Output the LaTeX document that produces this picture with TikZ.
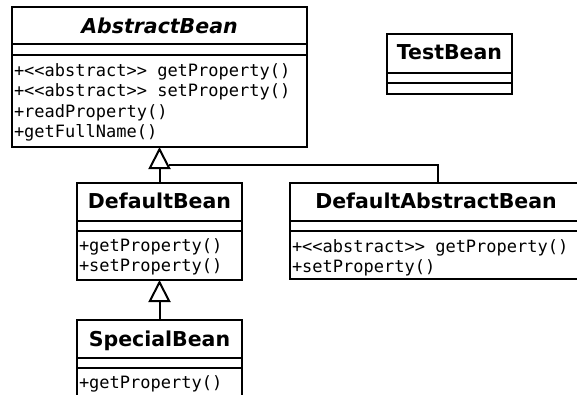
\documentclass[tikz,border=0pt]{standalone}
\usepackage{fontspec}
\setsansfont{DejaVu Sans}
\setmonofont{DejaVu Sans Mono}
\usetikzlibrary{arrows.meta}

\begin{document}
\begin{tikzpicture}[x=1pt, y=-1pt, line width=2pt,
  box/.style={draw, rectangle, inner sep=0pt, outer sep=0pt, anchor=north west, fill=white},
  title/.style={font=\fontsize{20.5}{20.5}\selectfont\sffamily\bfseries, inner sep=0pt, anchor=base},
  ops/.style={font=\fontsize{17}{20.4}\selectfont\ttfamily, inner sep=0pt, anchor=base west},
  inherit/.style={-{Triangle[open, length=22pt, width=22pt]}}]

\useasboundingbox (0,0) rectangle (577,394);
\clip (0,0) rectangle (577,394);

% class boxes
\node[box, minimum width=295pt, minimum height=140pt] (abs) at (12,7) {};
\node[box, minimum width=125pt, minimum height=60pt] (test) at (387,34) {};
\node[box, minimum width=165pt, minimum height=97pt] (dbean) at (77,183) {};
\node[box, minimum width=296pt, minimum height=96pt] (dab) at (290,183) {};
\node[box, minimum width=165pt, minimum height=90pt] (special) at (77,320) {};

% compartments
\draw (12,44) -- (307,44) (12,55) -- (307,55);
\draw (387,73) -- (512,73) (387,83) -- (512,83);
\draw (77,221) -- (242,221) (77,231) -- (242,231);
\draw (290,221) -- (586,221) (290,231) -- (586,231);
\draw (77,358) -- (242,358) (77,368) -- (242,368);

% class names
\node[title, font=\fontsize{20.5}{20.5}\selectfont\sffamily\bfseries\itshape] (absname) at (159.5,33) {AbstractBean};
\node[title] (testname) at (449.5,59.5) {TestBean};
\node[title] (dbeanname) at (159.5,208.5) {DefaultBean};
\node[title] (dabname) at (436,208.5) {DefaultAbstractBean};
\node[title] (specialname) at (159.5,346) {SpecialBean};

% operations
\node[ops] (absop1) at (13,76) {+<<abstract>> getProperty()};
\node[ops] (absop2) at (13,96.5) {+<<abstract>> setProperty()};
\node[ops] (absop3) at (13,117) {+readProperty()};
\node[ops] (absop4) at (13,137.5) {+getFullName()};
\node[ops] (dbeanop1) at (78,251) {+getProperty()};
\node[ops] (dbeanop2) at (78,271) {+setProperty()};
\node[ops] (dabop1) at (291,252) {+<<abstract>> getProperty()};
\node[ops] (dabop2) at (291,272) {+setProperty()};
\node[ops] (specialop1) at (78,388) {+getProperty()};

% generalisations
\coordinate (join) at (168.5,165);
\draw[inherit] (dbean.north) -- (dbean.north |- abs.south);
\draw (dab.north) |- (join);
\draw[inherit] (special.north) -- (special.north |- dbean.south);
\end{tikzpicture}
\end{document}
